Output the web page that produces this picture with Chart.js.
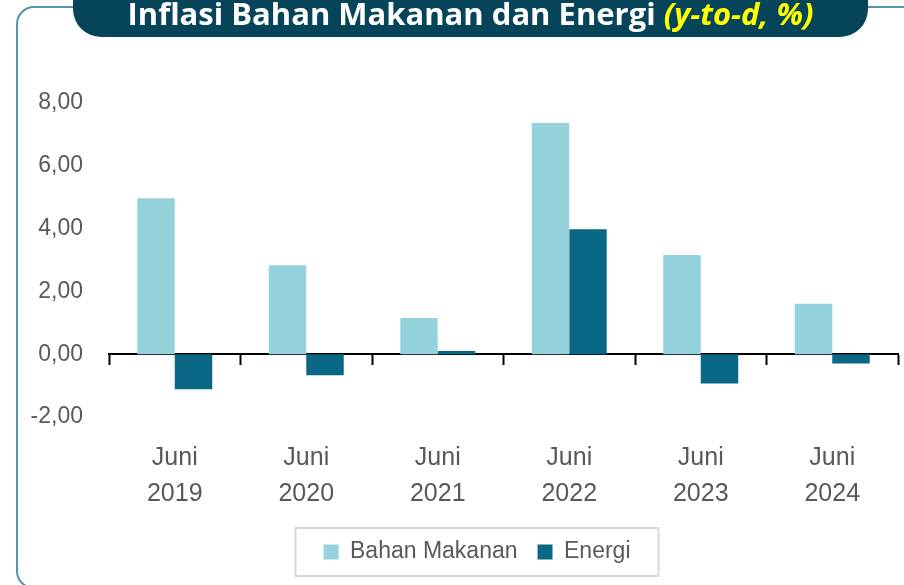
<!DOCTYPE html>
<html>
<head>
<meta charset="utf-8">
<script src="https://cdn.jsdelivr.net/npm/chart.js@4.4.1/dist/chart.umd.min.js"></script>
<style>
  html, body { margin: 0; padding: 0; background: #fff; }
  #wrap { position: relative; width: 904px; height: 585px; overflow: hidden; }
  #frame {
    position: absolute; left: 16px; top: 6px; width: 1000px; height: 583px;
    border: 2.5px solid #5592b0; border-radius: 18px; box-sizing: border-box;
  }
  #banner {
    position: absolute; left: 73px; top: -30px; width: 795px; height: 67px;
    background: #06445a; border-radius: 28px;
  }
  #title {
    position: absolute; left: 73px; top: -8px; width: 795px; line-height: 44px;
    text-align: center; color: #fff; white-space: nowrap;
    font: bold 31px "Open Sans", sans-serif;
  }
  #title span { color: #ffff00; font-style: italic; }
  canvas { position: absolute; left: 0; top: 0; }
</style>
</head>
<body>
<div id="wrap">
  <div id="frame"></div>
  <canvas id="chBar" width="904" height="585"></canvas>
  <div id="banner"></div>
  <div id="title">Inflasi Bahan Makanan dan Energi <span>(y-to-d, %)</span></div>
</div>
<script>
// chart data
var categories = [
  ["Juni", "2019"],
  ["Juni", "2020"],
  ["Juni", "2021"],
  ["Juni", "2022"],
  ["Juni", "2023"],
  ["Juni", "2024"],
];
var bahanMakanan = [4.97, 2.83, 1.15, 7.36, 3.16, 1.61];
var energi = [-1.12, -0.67, 0.1, 3.98, -0.93, -0.3];
var yMin = -2, yMax = 8, yStep = 2;

// colors
var colors = ["#95d3dc", "#0a6886"];
var textColor = "#595959";
var fontFamily = "'Liberation Sans', Arial, sans-serif";
var padBottom = 11.5;
var legendShift = 28; // legend sits a bit right of the canvas centre

// move the legend and draw the box round it
var legendBox = {
  id: "legendBox",
  beforeDraw: (chart) => {
    var lg = chart.legend;
    if (!lg._shifted) {
      lg.left += legendShift;
      lg.right += legendShift;
      lg.legendHitBoxes.forEach((b) => (b.left += legendShift));
      lg._shifted = true;
    }
  },
  afterDraw: (chart) => {
    var boxes = chart.legend.legendHitBoxes;
    if (!boxes || !boxes.length) return;
    var left = boxes[0].left, right = 0, mid = boxes[0].top + boxes[0].height / 2;
    boxes.forEach((b) => {
      left = Math.min(left, b.left);
      right = Math.max(right, b.left + b.width);
    });
    var ctx = chart.ctx;
    ctx.save();
    ctx.strokeStyle = "#d9d9d9";
    ctx.lineWidth = 2;
    ctx.strokeRect(left - 28, mid - 24, right - left + 56, 48);
    ctx.restore();
  },
};

var chBar = document.getElementById("chBar");
if (chBar) {
  this.c1 = new Chart(chBar, {
    type: "bar",
    data: {
      labels: categories,
      datasets: [
        {
          label: "Bahan Makanan",
          data: bahanMakanan,
          backgroundColor: colors[0],
          xAxisID: "x",
        },
        {
          label: "Energi",
          data: energi,
          backgroundColor: colors[1],
          xAxisID: "x",
        },
      ],
    },
    options: {
      responsive: false,
      animation: false,
      devicePixelRatio: 1,
      layout: { padding: { left: 0, right: 6, top: 103, bottom: padBottom } },
      datasets: { bar: { categoryPercentage: 0.57, barPercentage: 1 } },
      plugins: {
        tooltip: { enabled: false },
        legend: {
          position: "bottom",
          labels: {
            color: textColor,
            font: { family: fontFamily, size: 23 },
            boxWidth: 15,
            boxHeight: 15,
            padding: 20,
          },
        },
      },
      scales: {
        x: {
          position: "bottom",
          grid: { display: false, drawTicks: false },
          border: { display: false },
          ticks: {
            color: textColor,
            font: { family: fontFamily, size: 25, lineHeight: 1.44 },
            padding: 23,
            maxRotation: 0,
          },
          afterFit: (scale) => {
            var chart = scale.chart;
            scale.height = chart.height - padBottom - chart.legend.height - 417;
          },
        },
        // zero line with tick marks between the groups
        x2: {
          type: "category",
          position: { y: 0 },
          grid: {
            display: true,
            drawOnChartArea: false,
            drawTicks: true,
            tickLength: 10,
            tickColor: "#000",
            tickWidth: 2,
            offset: true,
          },
          border: { display: true, color: "#000", width: 2 },
          ticks: { display: false },
        },
        y: {
          min: yMin,
          max: yMax,
          grid: { display: false, drawTicks: false },
          border: { display: false },
          ticks: {
            stepSize: yStep,
            color: textColor,
            font: { family: fontFamily, size: 23 },
            padding: 26,
            callback: (v) => v.toFixed(2).replace(".", ","),
          },
          afterFit: (scale) => {
            scale.width = 109;
          },
        },
      },
    },
    plugins: [legendBox],
  });
}
</script>
</body>
</html>
